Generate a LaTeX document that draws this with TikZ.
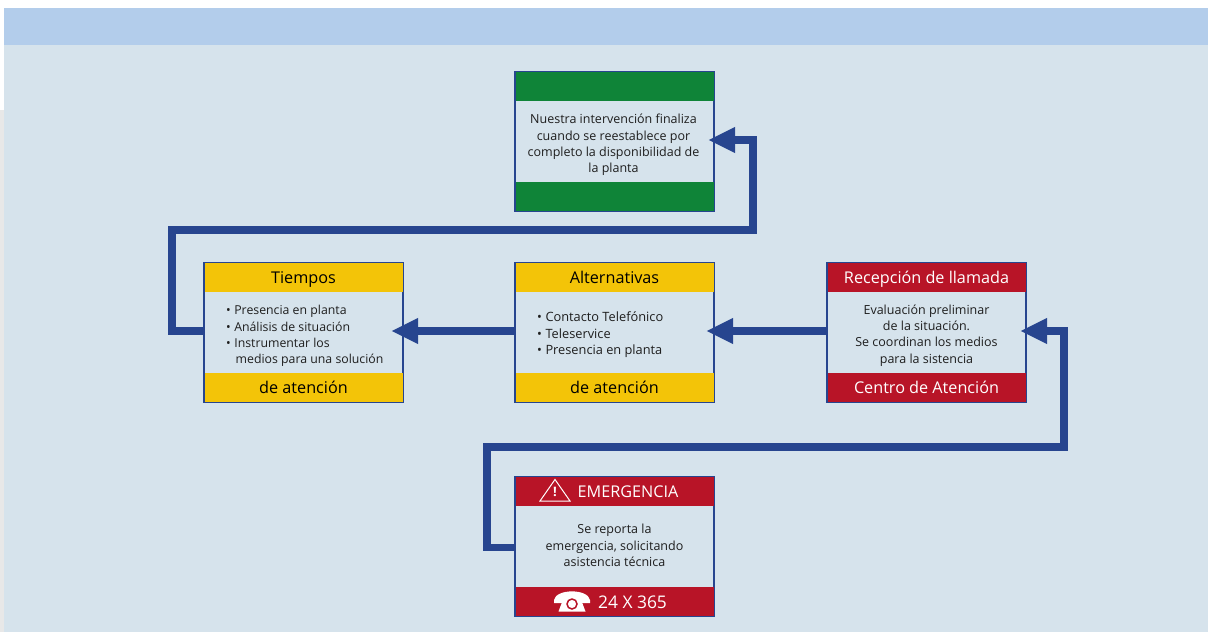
\documentclass[tikz,border=0pt]{standalone}
\usepackage{fontspec}
\setmainfont{Open Sans}
\usetikzlibrary{arrows.meta}
\definecolor{azul}{HTML}{27458F}
\definecolor{rojo}{HTML}{B81427}
\definecolor{verde}{HTML}{0F8438}
\definecolor{amarillo}{HTML}{F3C408}
\definecolor{fondo}{HTML}{D6E3EC}
\definecolor{cabecera}{HTML}{B3CDEB}
\definecolor{tinta}{HTML}{1E1E1E}
\tikzset{
  caja/.style={draw=azul, line width=2.2pt, fill=fondo, minimum width=199pt, minimum height=139pt, inner sep=0pt},
  banda/.style={minimum width=198pt, minimum height=#1, inner sep=0pt, text height=15.5pt, text depth=3.5pt, font=\fontsize{16.2}{18}\selectfont},
  amarilla/.style={banda=29pt, fill=amarillo, text=black},
  roja/.style={banda=29pt, fill=rojo, text=white},
  verdosa/.style={banda=29pt, fill=verde},
  texto/.style={text=tinta, inner sep=0pt, align=center, font=\fontsize{12.5}{16.4}\selectfont},
  lista/.style={text=tinta, inner sep=0pt, align=left, anchor=west, font=\fontsize{#1}{16.4}\selectfont},
  flecha/.style={draw=azul, line width=7.5pt, -{Triangle[length=27pt,width=24pt]}, shorten >=-#1},
  flecha/.default=7pt
}
\begin{document}
\begin{tikzpicture}[x=1pt,y=-1pt]
      \useasboundingbox (0,0) rectangle (1208,632);
      \fill[gray!18] (0,110) rectangle (4,632);
      \fill[fondo] (4,45) rectangle (1208,632);
      \fill[cabecera] (4,8) rectangle (1208,45);
      %%%%%%%%%%%%%%%%%%%%%%%%%%%%%%%%%%%%%%%%%%%%%%%
      \node[caja] at (614.5,141.5) (fin) {};
      \node[verdosa] at (614.5,86.5) (fin1) {};
      \node[verdosa] at (614.5,196.5) (fin2) {};
      \node[texto] at (613.5,145) (fint) {Nuestra intervención finaliza\\cuando se reestablece por\\completo la disponibilidad de\\la planta};
      %%%%%%%%%%%%%%%%%%%%%%%%%%%%%%%%%%%%%%%%%%%%%%%
      \node[caja] at (303.5,332.5) (tiempos) {};
      \node[amarilla] at (303.5,277.5) (tiempos1) {Tiempos};
      \node[amarilla] at (303.5,387.5) (tiempos2) {de atención};
      \node[lista=12.3] at (226,336) (tiempost) {•\hspace{3.5pt}Presencia en planta\\•\hspace{3.5pt}Análisis de situación\\•\hspace{3.5pt}Instrumentar los\\\hspace{9.5pt}medios para una solución};
      %%%%%%%%%%%%%%%%%%%%%%%%%%%%%%%%%%%%%%%%%%%%%%%
      \node[caja] at (614.5,332.5) (alter) {};
      \node[amarilla] at (614.5,277.5) (alter1) {Alternativas};
      \node[amarilla] at (614.5,387.5) (alter2) {de atención};
      \node[lista=12.8] at (537,335) (altert) {•\hspace{3.5pt}Contacto Telefónico\\•\hspace{3.5pt}Teleservice\\•\hspace{3.5pt}Presencia en planta};
      %%%%%%%%%%%%%%%%%%%%%%%%%%%%%%%%%%%%%%%%%%%%%%%
      \node[caja] at (926.5,332.5) (recep) {};
      \node[roja] at (926.5,277.5) (recep1) {Recepción de llamada};
      \node[roja] at (926.5,387.5) (recep2) {Centro de Atención};
      \node[texto] at (926.5,335.5) (recept) {Evaluación preliminar\\de la situación.\\Se coordinan los medios\\para la sistencia};
      %%%%%%%%%%%%%%%%%%%%%%%%%%%%%%%%%%%%%%%%%%%%%%%
      \node[caja] at (614.5,546.5) (emerg) {};
      \node[roja] at (614.5,491) (emerg1) {};
      \node[roja] at (614.5,601.5) (emerg2) {};
      \node[text=white, inner sep=0pt, font=\fontsize{16.2}{18}\selectfont] at (628,492) (emerg1t) {EMERGENCIA};
      \node[text=white, inner sep=0pt, font=\fontsize{17.4}{18}\selectfont] at (632.5,602) (emerg2t) {24 X 365};
      \node[texto] at (614.5,545.5) (emergt) {Se reporta la\\emergencia, solicitando\\asistencia técnica};
      % triangulo y telefono
      \draw[white, line width=1pt, line join=miter] (555,479.5) -- (570,501) -- (540,501) -- cycle;
      \node[text=white, inner sep=0pt, font=\bfseries\fontsize{13}{15}\selectfont] at (555,492) (aviso) {!};
      \fill[white] (554,600) .. controls (556,588.5) and (588,588.5) .. (590,600) -- (590,603) -- (580.5,603) -- (580,598) -- (564,598) -- (563.5,603) -- (554,603) -- cycle;
      \fill[white] (564,597) -- (580,597) -- (585.5,611.5) -- (558.5,611.5) -- cycle;
      \draw[rojo, line width=1.5pt] (572,604) circle (5);
      %%%%%%%%%%%%%%%%%%%%%%%%%%%%%%%%%%%%%%%%%%%%%%%
      \coordinate (e1) at (487,547.5);
      \coordinate (e2) at (487,447);
      \coordinate (e3) at (1064,447);
      \coordinate (e4) at (1064,331);
      \coordinate (t1) at (172,331);
      \coordinate (t2) at (172,230);
      \coordinate (t3) at (753,230);
      \coordinate (t4) at (753,140);
      \draw[flecha] (emerg.west |- e1) -- (e1) -- (e2) -- (e3) -- (e4) -- (recep.east |- e4);
      \draw[flecha=9pt] (recep.west |- e4) -- (alter.east |- e4);
      \draw[flecha=13pt] (alter.west |- e4) -- (tiempos.east |- e4);
      \draw[flecha] (tiempos.west |- t1) -- (t1) -- (t2) -- (t3) -- (t4) -- (fin.east |- t4);
      %%%%%%%%%%%%%%%%%%%%%%%%%%%%%%%%%%%%%%%%%%%%%%%
\end{tikzpicture}
\end{document}
